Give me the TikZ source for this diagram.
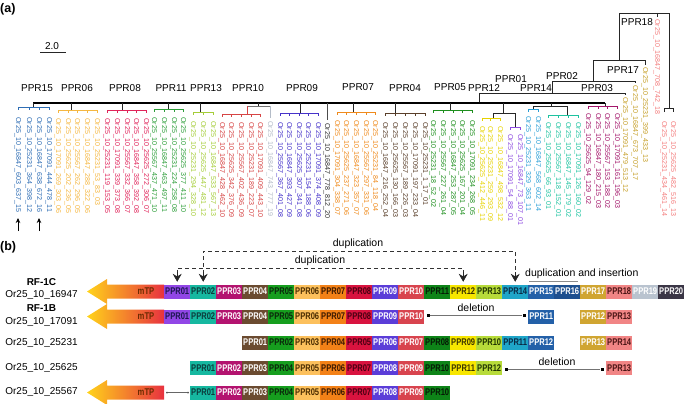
\documentclass[tikz,border=0pt]{standalone}
\usepackage{fontspec}
\setmainfont{Liberation Sans}
\newfontfamily\boxfont[FakeStretch=0.78]{Liberation Sans}
\usetikzlibrary{arrows.meta}
% box colours
\definecolor{c01}{HTML}{9146E6}\definecolor{t01}{HTML}{1B1650}
\definecolor{c02}{HTML}{16B8A0}\definecolor{t02}{HTML}{0B3B3B}
\definecolor{c03}{HTML}{B3136F}\definecolor{t03}{HTML}{FFFFFF}
\definecolor{c04}{HTML}{6B4B30}\definecolor{t04}{HTML}{FFFFFF}
\definecolor{c05}{HTML}{169E1E}\definecolor{t05}{HTML}{0A260A}
\definecolor{c06}{HTML}{FCC05C}\definecolor{t06}{HTML}{4A2C00}
\definecolor{c07}{HTML}{F38117}\definecolor{t07}{HTML}{3A1800}
\definecolor{c08}{HTML}{D8133F}\definecolor{t08}{HTML}{4A0012}
\definecolor{c09}{HTML}{5B3DD8}\definecolor{t09}{HTML}{FFFFFF}
\definecolor{c10}{HTML}{D8444E}\definecolor{t10}{HTML}{FFFFFF}
\definecolor{c11}{HTML}{0E8418}\definecolor{t11}{HTML}{051A05}
\definecolor{c12}{HTML}{F7E600}\definecolor{t12}{HTML}{3A3300}
\definecolor{c13}{HTML}{B7DB3A}\definecolor{t13}{HTML}{1E3300}
\definecolor{c14}{HTML}{1FA5C8}\definecolor{t14}{HTML}{0A2A45}
\definecolor{c15}{HTML}{2360A8}\definecolor{t15}{HTML}{FFFFFF}
\definecolor{c16}{HTML}{1D4F8F}\definecolor{t16}{HTML}{FFFFFF}
\definecolor{c17}{HTML}{D0A531}\definecolor{t17}{HTML}{FFFFFF}
\definecolor{c18}{HTML}{F18585}\definecolor{t18}{HTML}{4A1414}
\definecolor{c19}{HTML}{B9C3CF}\definecolor{t19}{HTML}{FFFFFF}
\definecolor{c20}{HTML}{3B3646}\definecolor{t20}{HTML}{FFFFFF}
% tree label colours
\definecolor{l15}{HTML}{2E6DB4}\definecolor{l06}{HTML}{F5B741}
\definecolor{l08}{HTML}{E0245A}\definecolor{l11}{HTML}{2E9E3A}
\definecolor{l13}{HTML}{A5CD39}\definecolor{l10}{HTML}{D64545}
\definecolor{l19}{HTML}{B4BCC8}\definecolor{l09}{HTML}{4633C9}
\definecolor{l20}{HTML}{333333}\definecolor{l07}{HTML}{EF8A1C}
\definecolor{l04}{HTML}{5A3F2A}\definecolor{l05}{HTML}{1F8F1F}
\definecolor{l12}{HTML}{E6D200}\definecolor{l01}{HTML}{8E4DE0}
\definecolor{l14}{HTML}{2A9FD6}\definecolor{l02}{HTML}{1EC3A0}
\definecolor{l03}{HTML}{A3166A}\definecolor{l17}{HTML}{C6A02A}
\definecolor{l18}{HTML}{F37E7E}
\definecolor{mtpy}{HTML}{FFD31A}\definecolor{mtpo}{HTML}{F29A22}
\definecolor{mtpr}{HTML}{E8323F}\definecolor{mtpt}{HTML}{6A2A00}
\newcommand\lf[4]{\node[leaf,text=#1] (lf#2) at (#2,#3) {#4};}
\newcommand\mkclade[5]{\draw[#1,line width=0.8pt] (#2,#4) -- (#3,#4);
  \foreach \q in {#5}{\draw[#1,line width=0.8pt] (\q,#4) -- (\q,#4+3);}}
\newcommand\mtparrow[2]{%
  \shade[left color=mtpy,middle color=mtpo,right color=mtpr]
    (87,#1) -- (107,#1-12.5) -- (107,#1-7) -- (164,#1-7) -- (164,#1+7)
    -- (107,#1+7) -- (107,#1+12.5) -- cycle;
  \node[font=\boxfont\bfseries\fontsize{9.8}{11}\selectfont,text=mtpt,inner sep=0pt] (#2) at (146,#1) {mTP};}
\begin{document}
\begin{tikzpicture}[x=1pt,y=-1pt,
  tr/.style={draw=black!85,line width=0.9pt},
  leaf/.style={rotate=-90,anchor=west,inner sep=0pt,font=\fontsize{7.15}{8}\selectfont},
  cname/.style={font=\fontsize{10}{11}\selectfont,inner sep=0pt},
  ppr/.style={anchor=west,minimum width=26pt,minimum height=14pt,inner sep=0pt,
    font=\boxfont\bfseries\fontsize{9.7}{11}\selectfont},
  rowlab/.style={font=\fontsize{10}{11}\selectfont,inner sep=0pt},
  rowbold/.style={font=\bfseries\fontsize{10}{11}\selectfont,inner sep=0pt},
  note/.style={font=\fontsize{10.5}{11}\selectfont,inner sep=0pt},
  dsh/.style={draw=black!80,line width=0.8pt,dash pattern=on 4pt off 3pt},
  tipar/.style={-{Stealth[length=8pt,width=9pt]},draw=black!85,line width=0.8pt},
  sq/.style={fill=black,minimum size=3pt,inner sep=0pt},
  dotn/.style={fill=black!70,circle,minimum size=2pt,inner sep=0pt},
]
\useasboundingbox (0,0) rectangle (685,404);
% ---------------- (a) ----------------
\node[font=\bfseries\fontsize{12.5}{13}\selectfont,anchor=west,inner sep=0pt] (pa) at (0,9) {(a)};
\node[cname] (scl) at (52,46) {2.0};
\draw[black!85,line width=0.8pt] (40,52) -- (66,52);
% root ladder
\draw[tr] (619,60) -- (619,13) -- (669,13) -- (669,108);
\draw[tr] (664,112) -- (664,108) -- (673,108) -- (673,112);
\draw[tr] (657,13) -- (657,17);
\draw[tr] (593,81) -- (593,60) -- (645,60) -- (645,65);
\draw[tr] (552,93) -- (552,81) -- (635,81) -- (635,83);
\draw[tr] (479,103) -- (479,93) -- (625,93) -- (625,95);
\draw[draw=black,line width=1.3pt] (33,103) -- (605,103);
% connectors
\foreach \cx in {33,71,122,168,200,300,353,395,450,605}{\draw[tr] (\cx,103) -- (\cx,107);}
\draw[tr] (71,107) -- (71,110); \draw[tr] (122,107) -- (122,110);
\draw[tr] (168,107) -- (168,109); \draw[tr] (200,107) -- (200,112);
\draw[tr] (300,107) -- (300,113); \draw[tr] (353,107) -- (353,112);
\draw[tr] (395,107) -- (395,113); \draw[tr] (450,107) -- (450,110);
\draw[tr] (258,103) -- (258,106);
\draw[black!55,line width=0.9pt] (247,106) -- (270,106);
\draw[l10,line width=0.8pt] (247,106) -- (247,114);
\draw[l19,line width=0.8pt] (270,106) -- (270,118);
\draw[black!70,line width=0.9pt] (327,103) -- (327,120);
\draw[tr] (503,103) -- (503,113); \draw[tr] (493,113) -- (515,113);
\draw[tr] (493,113) -- (493,118); \draw[tr] (515,113) -- (515,127);
\draw[tr] (551,103) -- (551,106); \draw[tr] (533,106) -- (567,106);
\draw[tr] (533,106) -- (533,109); \draw[tr] (567,106) -- (567,115);
% clade brackets
\mkclade{l15}{18}{49}{107}{18,29,39,49}
\mkclade{l06}{58}{97}{110}{58,68,77,87,97}
\mkclade{l08}{107}{146}{110}{107,117,127,136,146}
\mkclade{l11}{154}{183}{109}{154,164,174,183}
\mkclade{l13}{193}{213}{112}{193,203,213}
\mkclade{l10}{222}{260}{114}{222,231,241,251,260}
\mkclade{l09}{280}{318}{113}{280,289,299,308,318}
\mkclade{l07}{337}{375}{112}{337,346,356,366,375}
\mkclade{l04}{385}{425}{113}{385,395,405,415,425}
\mkclade{l05}{433}{472}{110}{433,443,453,462,472}
\mkclade{l12}{482}{500}{118}{482,490,500}
\mkclade{l01}{510}{520}{127}{510,520}
\mkclade{l14}{528}{538}{109}{528,538}
\mkclade{l02}{548}{578}{115}{548,558,568,578}
\mkclade{l03}{588}{617}{106}{588,598,607,617}
% clade names
\node[cname] (nm15) at (37,88) {PPR15};
\node[cname] (nm06) at (77,88) {PPR06};
\node[cname] (nm08) at (125,88) {PPR08};
\node[cname] (nm11) at (171,88) {PPR11};
\node[cname] (nm13) at (206,88) {PPR13};
\node[cname] (nm10) at (248,88) {PPR10};
\node[cname] (nm09) at (302,88) {PPR09};
\node[cname] (nm07) at (358,87) {PPR07};
\node[cname] (nm04) at (405,88) {PPR04};
\node[cname] (nm05) at (450,87) {PPR05};
\node[cname] (nm12) at (484,88) {PPR12};
\node[cname] (nm01) at (511,79) {PPR01};
\node[cname] (nm14) at (536,88) {PPR14};
\node[cname] (nm02) at (562,76) {PPR02};
\node[cname] (nm03) at (597,88) {PPR03};
\node[cname] (nm17) at (623,70) {PPR17};
\node[cname] (nm18) at (637,22) {PPR18};
% leaves
\lf{l15}{18}{117}{Or25\_10\_16847\_603\_637\_15}
\lf{l15}{29}{117}{Or25\_10\_25231\_364\_398\_12}
\lf{l15}{39}{117}{Or25\_10\_16847\_638\_672\_16}
\lf{l15}{49}{117}{Or25\_10\_17091\_444\_478\_11}
\lf{l06}{58}{118}{Or25\_10\_17091\_269\_303\_06}
\lf{l06}{68}{118}{Or25\_10\_25625\_202\_236\_05}
\lf{l06}{77}{118}{Or25\_10\_25567\_262\_296\_05}
\lf{l06}{87}{118}{Or25\_10\_16847\_288\_322\_06}
\lf{l06}{97}{118}{Or25\_10\_25231\_53\_83\_03}
\lf{l08}{107}{118}{Or25\_10\_25231\_119\_153\_05}
\lf{l08}{117}{118}{Or25\_10\_17091\_339\_373\_08}
\lf{l08}{127}{118}{Or25\_10\_25567\_332\_366\_07}
\lf{l08}{136}{118}{Or25\_10\_16847\_358\_392\_08}
\lf{l08}{146}{118}{Or25\_10\_25625\_272\_306\_07}
\lf{l11}{154}{117}{Or25\_10\_25567\_437\_471\_10}
\lf{l11}{164}{117}{Or25\_10\_16847\_463\_497\_11}
\lf{l11}{174}{117}{Or25\_10\_25231\_224\_258\_08}
\lf{l11}{183}{117}{Or25\_10\_25625\_377\_411\_10}
\lf{l13}{193}{121}{Or25\_10\_25231\_294\_328\_10}
\lf{l13}{203}{121}{Or25\_10\_25625\_447\_481\_12}
\lf{l13}{213}{121}{Or25\_10\_16847\_533\_567\_13}
\lf{l10}{222}{122}{Or25\_10\_16847\_428\_462\_10}
\lf{l10}{231}{122}{Or25\_10\_25625\_342\_376\_09}
\lf{l10}{241}{122}{Or25\_10\_25567\_402\_436\_09}
\lf{l10}{251}{122}{Or25\_10\_25231\_189\_223\_07}
\lf{l10}{260}{122}{Or25\_10\_17091\_409\_443\_10}
\lf{l19}{270}{121}{Or25\_10\_16847\_743\_777\_19}
\lf{l09}{280}{122}{Or25\_10\_25567\_367\_401\_08}
\lf{l09}{289}{122}{Or25\_10\_16847\_393\_427\_09}
\lf{l09}{299}{122}{Or25\_10\_25625\_307\_341\_08}
\lf{l09}{308}{122}{Or25\_10\_25231\_154\_188\_06}
\lf{l09}{318}{122}{Or25\_10\_17091\_374\_408\_09}
\lf{l20}{327}{123}{Or25\_10\_16847\_778\_812\_20}
\lf{l07}{337}{120}{Or25\_10\_17091\_304\_338\_07}
\lf{l07}{346}{120}{Or25\_10\_25625\_237\_271\_06}
\lf{l07}{356}{120}{Or25\_10\_16847\_323\_357\_07}
\lf{l07}{366}{120}{Or25\_10\_25567\_297\_331\_06}
\lf{l07}{375}{120}{Or25\_10\_25231\_84\_118\_04}
\lf{l04}{385}{122}{Or25\_10\_16847\_216\_252\_04}
\lf{l04}{395}{122}{Or25\_10\_25625\_130\_166\_03}
\lf{l04}{405}{122}{Or25\_10\_25567\_189\_226\_03}
\lf{l04}{415}{122}{Or25\_10\_17091\_197\_233\_04}
\lf{l04}{425}{122}{Or25\_10\_25231\_1\_17\_01}
\lf{l05}{433}{120}{Or25\_10\_25231\_18\_52\_02}
\lf{l05}{443}{120}{Or25\_10\_25567\_227\_261\_04}
\lf{l05}{453}{120}{Or25\_10\_16847\_253\_287\_05}
\lf{l05}{462}{120}{Or25\_10\_25625\_167\_201\_04}
\lf{l05}{472}{120}{Or25\_10\_17091\_234\_268\_05}
\lf{l12}{482}{126}{Or25\_10\_25625\_412\_446\_11}
\lf{l12}{490}{126}{Or25\_10\_25231\_259\_293\_09}
\lf{l12}{500}{126}{Or25\_10\_16847\_498\_532\_12}
\lf{l01}{510}{134}{Or25\_10\_17091\_54\_88\_01}
\lf{l01}{520}{134}{Or25\_10\_16847\_73\_107\_01}
\lf{l14}{528}{116}{Or25\_10\_25231\_329\_363\_11}
\lf{l14}{538}{116}{Or25\_10\_16847\_568\_602\_14}
\lf{l02}{548}{122}{Or25\_10\_25625\_66\_93\_01}
\lf{l02}{558}{122}{Or25\_10\_25567\_118\_152\_01}
\lf{l02}{568}{122}{Or25\_10\_16847\_145\_179\_02}
\lf{l02}{578}{122}{Or25\_10\_17091\_126\_160\_02}
\lf{l03}{588}{113}{Or25\_10\_25625\_94\_129\_02}
\lf{l03}{598}{113}{Or25\_10\_16847\_180\_215\_03}
\lf{l03}{607}{113}{Or25\_10\_25567\_153\_188\_02}
\lf{l03}{617}{113}{Or25\_10\_17091\_161\_196\_03}
\lf{l17}{625}{97}{Or25\_10\_17091\_479\_513\_12}
\lf{l17}{635}{85}{Or25\_10\_16847\_673\_707\_17}
\lf{l17}{645}{67}{Or25\_10\_25231\_399\_433\_13}
\lf{l18}{657}{19}{Or25\_10\_16847\_708\_742\_18}
\lf{l18}{664}{121}{Or25\_10\_25231\_434\_461\_14}
\lf{l18}{673}{121}{Or25\_10\_25625\_482\_516\_13}
% arrows under leaves
\coordinate (ar1) at (18,231); \coordinate (ar2) at (39,231);
\draw[-{Stealth[length=5pt,width=4.5pt]},line width=0.7pt] (ar1) -- ++(0,-13);
\draw[-{Stealth[length=5pt,width=4.5pt]},line width=0.7pt] (ar2) -- ++(0,-13);
% ---------------- (b) ----------------
\node[font=\bfseries\fontsize{12.5}{13}\selectfont,anchor=west,inner sep=0pt] (pb) at (0,247) {(b)};
% row labels
\node[rowbold] (rf1c) at (41.5,282) {RF-1C};
\node[rowlab] (nr1) at (41.5,295) {Or25\_10\_16947};
\node[rowbold] (rf1b) at (41.5,308) {RF-1B};
\node[rowlab] (nr2) at (41.5,322) {Or25\_10\_17091};
\node[rowlab] (nr3) at (41.5,343) {Or25\_10\_25231};
\node[rowlab] (nr4) at (41.5,368) {Or25\_10\_25625};
\node[rowlab] (nr5) at (41.5,392) {Or25\_10\_25567};
% row 1
\mtparrow{291.5}{mtp1}
\foreach \i/\n in {1/01,2/02,3/03,4/04,5/05,6/06,7/07,8/08,9/09,10/10,11/11,12/12,13/13,14/14,15/15,16/16,17/17,18/18,19/19,20/20}
  {\node[ppr,fill=c\n,text=t\n] (r1b\i) at ({164+26*(\i-1)},291.5) {PPR\n};}
% row 2
\mtparrow{316.5}{mtp2}
\foreach \i/\n in {1/01,2/02,3/03,4/04,5/05,6/06,7/07,8/08,9/09,10/10}
  {\node[ppr,fill=c\n,text=t\n] (r2b\i) at ({164+26*(\i-1)},316.5) {PPR\n};}
\node[ppr,fill=c15,text=t15] (r2b11) at (528,316.5) {PPR11};
\node[ppr,fill=c17,text=t17] (r2b12) at (580,316.5) {PPR12};
\node[ppr,fill=c18,text=t18] (r2b13) at (606,316.5) {PPR13};
\node[sq] (d2a) at (428,315.5) {};
\node[sq] (d2b) at (524,315.5) {};
\draw[black!55,line width=0.8pt] (d2a) -- (d2b);
\node[note] (del2) at (476,308) {deletion};
% row 3
\foreach \j/\n/\c in {1/01/04,2/02/05,3/03/06,4/04/07,5/05/08,6/06/09,7/07/10,8/08/11,9/09/12,10/10/13,11/11/14,12/12/15}
  {\node[ppr,fill=c\c,text=t\c] (r3b\j) at ({164+26*(\j+2)},342.5) {PPR\n};}
\node[ppr,fill=c17,text=t17] (r3b13) at (580,342.5) {PPR13};
\node[ppr,fill=c18,text=t18] (r3b14) at (606,342.5) {PPR14};
% row 4
\foreach \j/\n/\c in {1/01/02,2/02/03,3/03/04,4/04/05,5/05/06,6/06/07,7/07/08,8/08/09,9/09/10,10/10/11,11/11/12,12/12/13}
  {\node[ppr,fill=c\c,text=t\c] (r4b\j) at ({164+26*\j},368) {PPR\n};}
\node[ppr,fill=c18,text=t18] (r4b13) at (606,368) {PPR13};
\node[sq] (d4a) at (506,369) {};
\node[sq] (d4b) at (602,369) {};
\draw[black!55,line width=0.8pt] (d4a) -- (d4b);
\node[note] (del4) at (557,362) {deletion};
% row 5
\mtparrow{392.5}{mtp5}
\foreach \j/\n/\c in {1/01/02,2/02/03,3/03/04,4/04/05,5/05/06,6/06/07,7/07/08,8/08/09,9/09/10,10/10/11}
  {\node[ppr,fill=c\c,text=t\c] (r5b\j) at ({164+26*\j},392.5) {PPR\n};}
\node[dotn] (p5a) at (167,392.5) {};
\node[dotn] (p5b) at (188,392.5) {};
\draw[black!60,line width=0.6pt] (p5a) -- (p5b);
% duplication annotations
\coordinate (dupA) at (0,251);
\coordinate (dupB) at (0,268);
\draw[dsh] (r1b2.north |- 0,274) -- (r1b2.north |- dupA) -- (r1b14.north |- dupA) -- (r1b14.north |- 0,274);
\draw[dsh] (r1b1.north |- 0,274) -- (r1b1.north |- dupB) -- (r1b12.north |- dupB) -- (r1b12.north |- 0,274);
\foreach \b in {r1b1,r1b2,r1b12,r1b14}
  {\draw[tipar] (\b.north |- 0,272) -- ([yshift=2.5pt]\b.north);}
\node[note] (dup1) at (358,244) {duplication};
\node[note] (dup2) at (320,261) {duplication};
\node[note,anchor=west] (dup3) at (525,274) {duplication and insertion};
\draw[black!45,line width=0.6pt] (529,281) -- (578,281);
\end{tikzpicture}
\end{document}
